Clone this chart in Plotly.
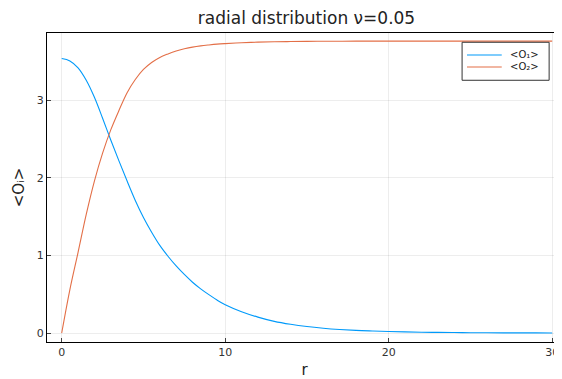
import plotly.graph_objects as go

r_vals = [0, 0.5, 1, 1.5, 2, 2.5, 3, 3.5, 4, 4.5, 5, 5.5, 6, 6.5, 7, 7.5, 8, 8.5, 9, 9.5,
          10, 11, 12, 13, 14, 15, 16, 17, 18, 19, 20, 21, 22, 23, 24, 25, 26, 27, 28, 29, 30]

o1_vals = [3.54, 3.51, 3.42, 3.26, 3.04, 2.77, 2.49, 2.22, 1.96, 1.71, 1.49, 1.30, 1.13, 0.99,
           0.865, 0.755, 0.655, 0.57, 0.495, 0.425,
           0.365, 0.275, 0.205, 0.15, 0.112, 0.083, 0.062, 0.046, 0.034, 0.026, 0.019,
           0.014, 0.010, 0.0077, 0.0057, 0.0042, 0.0031, 0.0023, 0.0017, 0.0013, 0.001]

o2_vals = [0.0, 0.56, 1.04, 1.53, 1.96, 2.32, 2.62, 2.87, 3.10, 3.27, 3.40, 3.49, 3.555, 3.60,
           3.638, 3.666, 3.688, 3.704, 3.716, 3.726,
           3.733, 3.744, 3.752, 3.757, 3.76, 3.762, 3.763, 3.764, 3.765, 3.765, 3.765,
           3.765, 3.765, 3.765, 3.765, 3.765, 3.765, 3.765, 3.765, 3.765, 3.765]

series_names = ["<O₁>", "<O₂>"]
series_colors = ["#009AFA", "#E36F47"]
x_ticks = [0, 10, 20, 30]
y_ticks = [0, 1, 2, 3]

fig = go.Figure()
for name, ys, col in zip(series_names, [o1_vals, o2_vals], series_colors):
    fig.add_trace(go.Scatter(x=r_vals, y=ys, mode="lines", name=name, showlegend=False,
                             line=dict(color=col, width=1.1, shape="spline")))

axis_common = dict(
    showline=True, linecolor="black", linewidth=1, mirror=True,
    showgrid=True, gridcolor="rgba(0,0,0,0.07)", gridwidth=1,
    zeroline=False, ticks="inside", ticklen=4, tickcolor="#444",
    tickfont=dict(family="DejaVu Sans", size=11, color="#333"),
    automargin=False, ticklabeloverflow="allow",
)

# custom legend box (paper coordinates)
leg_x0, leg_x1, leg_y0, leg_y1 = 0.806, 0.975, 0.847, 0.970
line_x0, line_x1, text_x = 0.8155, 0.883, 0.8946
row_y = [0.929, 0.890]
shapes = [dict(type="rect", xref="paper", yref="paper", x0=leg_x0, x1=leg_x1, y0=leg_y0, y1=leg_y1,
               line=dict(color="#333", width=1), fillcolor="white", layer="above")]
annotations = []
for name, col, yy in zip(series_names, series_colors, row_y):
    shapes.append(dict(type="line", xref="paper", yref="paper", x0=line_x0, x1=line_x1, y0=yy, y1=yy,
                       line=dict(color=col, width=1.1), layer="above"))
    annotations.append(dict(xref="paper", yref="paper", x=text_x, y=yy, text=name, showarrow=False,
                            xanchor="left", yanchor="middle",
                            font=dict(family="DejaVu Sans", size=10, color="#222")))

W, H = 554, 371
fig.update_layout(
    width=W, height=H,
    margin=dict(l=39, r=0, t=25, b=37),
    paper_bgcolor="white", plot_bgcolor="white",
    title=dict(text="radial distribution ν=0.05", x=298.5 / W, xanchor="center",
               y=1 - 10 / H, yanchor="middle",
               font=dict(family="DejaVu Sans", size=17, color="#222")),
    xaxis=dict(range=[-0.9, 30.6], tickvals=x_ticks,
               title=dict(text="r", font=dict(family="DejaVu Sans", size=15, color="#222"), standoff=8),
               **axis_common),
    yaxis=dict(range=[-0.116, 3.87], tickvals=y_ticks,
               title=dict(text="<Oᵢ>", font=dict(family="DejaVu Sans", size=15, color="#222"), standoff=8),
               **axis_common),
    shapes=shapes,
    annotations=annotations,
    showlegend=False,
)

fig.write_html("out.html")
